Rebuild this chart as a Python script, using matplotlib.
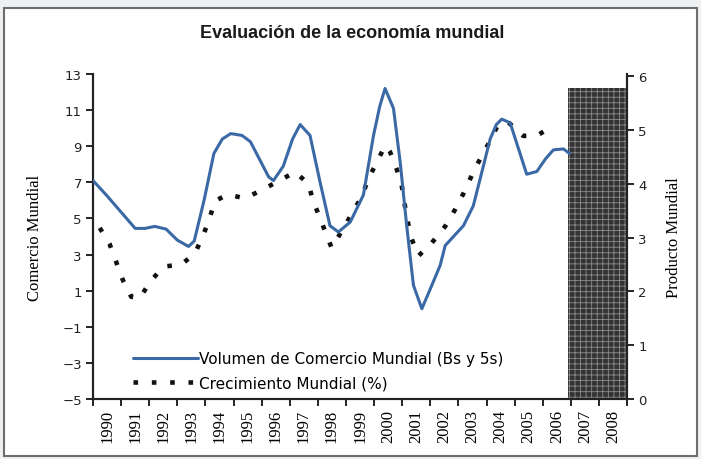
import matplotlib
matplotlib.use("Agg")
import matplotlib.pyplot as plt
from matplotlib.patches import Rectangle

# ejes categóricos: un año por categoría
anios = list(range(1990, 2009))

# Volumen de Comercio Mundial (eje izquierdo)
comercio_x = [1989.5, 1990.0, 1990.5, 1991.0, 1991.35, 1991.7, 1992.1, 1992.5, 1992.9, 1993.1,
              1993.45, 1993.8, 1994.1, 1994.4, 1994.8, 1995.1, 1995.45, 1995.75, 1995.92, 1996.27,
              1996.6, 1996.87, 1997.22, 1997.58, 1997.93, 1998.23, 1998.65, 1999.12, 1999.48,
              1999.7, 1999.89, 2000.19, 2000.43, 2000.66, 2000.9, 2001.2, 2001.5, 2001.85,
              2002.03, 2002.68, 2003.03, 2003.63, 2003.85, 2004.04, 2004.34, 2004.93, 2005.29,
              2005.6, 2005.88, 2006.24, 2006.45]
comercio_y = [7.1, 6.25, 5.35, 4.45, 4.45, 4.56, 4.41, 3.8, 3.45, 3.75,
              6.0, 8.6, 9.4, 9.7, 9.6, 9.25, 8.2, 7.3, 7.1, 7.9,
              9.4, 10.2, 9.6, 7.0, 4.6, 4.25, 4.8, 6.3, 9.6,
              11.2, 12.2, 11.1, 8.1, 4.6, 1.3, 0.0, 1.1, 2.4,
              3.5, 4.6, 5.7, 9.4, 10.2, 10.5, 10.3, 7.45, 7.6,
              8.3, 8.8, 8.85, 8.6]

# Crecimiento Mundial (%) (eje derecho)
crecimiento_x = [1989.74, 1990.09, 1990.33, 1990.57, 1990.86, 1991.16, 1991.52, 1992.0,
                 1992.64, 1993.12, 1993.41, 1993.65, 1993.83, 1994.3, 1994.9, 1995.49,
                 1996.1, 1996.69, 1997.16, 1997.34, 1997.58, 1997.82, 1997.99, 1998.35,
                 1998.76, 1999.06, 1999.3, 1999.6, 1999.89, 2000.07, 2000.3, 2000.48,
                 2000.6, 2000.72, 2000.84, 2001.08, 2001.55, 2002.03, 2002.38, 2002.68,
                 2002.98, 2003.27, 2003.63, 2003.92, 2004.28, 2004.81, 2005.29, 2005.88]
crecimiento_y = [3.18, 2.88, 2.54, 2.2, 1.9, 1.87, 2.17, 2.46,
                 2.5, 2.7, 3.03, 3.36, 3.68, 3.8, 3.73, 3.88,
                 4.05, 4.22, 4.0, 3.67, 3.36, 3.03, 2.81, 3.12,
                 3.49, 3.76, 4.1, 4.4, 4.71, 4.59, 4.28, 3.98,
                 3.58, 3.24, 2.97, 2.66, 2.9, 3.21, 3.52, 3.82,
                 4.16, 4.46, 4.8, 5.11, 5.14, 4.89, 4.89, 5.09]

# zona sombreada (proyección) sobre el eje derecho
sombra_desde = 2006.4
sombra_hasta = 2008.5
sombra_altura = 5.78

plt.rcParams["hatch.linewidth"] = 0.6

fig = plt.figure(figsize=(7.01, 4.60), dpi=100, facecolor="#eef0f2")
fig.patches.append(Rectangle((0.0064, 0.0065), 0.988, 0.974, transform=fig.transFigure,
                             facecolor="white", edgecolor="#6e6e6e", linewidth=1.5, zorder=-5))

fig.text(0.502, 0.928, "Evaluación de la economía mundial", ha="center", va="center",
         fontsize=13, fontweight="bold", family="Liberation Sans", color="#1a1a1a")

ax = fig.add_axes([0.1327, 0.1304, 0.7618, 0.7065])
ax2 = ax.twinx()
ax.set_zorder(2)
ax2.set_zorder(1)
ax.patch.set_visible(False)
ax2.set_facecolor("white")

ax2.bar(sombra_desde, sombra_altura, width=sombra_hasta - sombra_desde, align="edge",
        color="#333333", edgecolor="#8c8c8c", hatch="+++", linewidth=0, zorder=1)
puntos, = ax2.plot(crecimiento_x, crecimiento_y, color="#111111", lw=3.3,
                   linestyle=(0, (1, 3)), dash_capstyle="butt", zorder=2,
                   label="Crecimiento Mundial (%)")
linea, = ax.plot(comercio_x, comercio_y, color="#3a69a6", lw=2.2, zorder=3,
                 label="Volumen de Comercio Mundial (Bs y 5s)",
                 solid_capstyle="round", solid_joinstyle="round")

ax.set_xlim(1989.5, 2008.5)
ax.set_ylim(-5, 13)
ax2.set_ylim(0, 6.04)

ax.set_xticks(anios)
ax.set_xticklabels([str(a) for a in anios], rotation=90, fontsize=12,
                   fontfamily="Liberation Serif")
ax.set_xticks([a - 0.5 for a in anios] + [2008.5], minor=True)
ax.tick_params(axis="x", which="major", length=0, pad=7)
ax.tick_params(axis="x", which="minor", length=5, width=1.2, direction="out")

ax.set_yticks(range(-5, 14, 2))
ax.tick_params(axis="y", length=5, width=1.2, direction="out", labelsize=9.5, pad=3,
               labelcolor="#222222")
ax2.set_yticks(range(0, 7))
ax2.tick_params(axis="y", length=5, width=1.2, direction="out", labelsize=9.5, pad=3,
                labelcolor="#222222")

for a in (ax, ax2):
    a.spines["top"].set_visible(False)
    for s in ("left", "bottom", "right"):
        a.spines[s].set_linewidth(1.5)
        a.spines[s].set_color("#222222")

ax.set_ylabel("Comercio Mundial", family="Liberation Serif", fontsize=12, labelpad=14)
ax2.set_ylabel("Producto Mundial", family="Liberation Serif", fontsize=12, labelpad=14)

ax.legend(handles=[linea, puntos], loc="lower left", bbox_to_anchor=(0.05, -0.015),
          frameon=False, handlelength=4.2, handletextpad=0.1,
          labelspacing=0.6, prop={"family": "DejaVu Sans", "size": 11})

for t in ax.get_xticklabels():
    t.set_fontfamily("Liberation Serif")
    t.set_fontsize(12)

fig.savefig("out.png", dpi=100, facecolor=fig.get_facecolor())
